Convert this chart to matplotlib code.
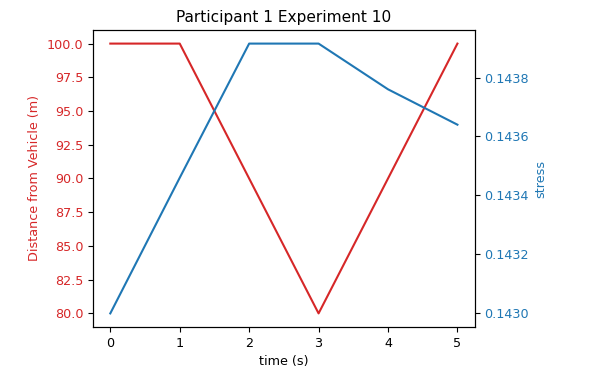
import matplotlib.pyplot as plt

time = [0, 1, 2, 3, 4, 5]
distance = [100, 100, 90, 80, 90, 100]
stress = [0.14300, 0.14346, 0.143915, 0.143915, 0.14376, 0.14364]

plt.rcParams['font.size'] = 9.2

fig = plt.figure(figsize=(5.92, 3.81), dpi=100)
ax1 = fig.add_axes([0.157, 0.142, 0.645, 0.779])

color = 'tab:red'
ax1.set_xlabel('time (s)')
ax1.set_ylabel('Distance from Vehicle (m)', color=color)
ax1.plot(time, distance, color=color)
ax1.tick_params(axis='y', labelcolor=color)

ax2 = ax1.twinx()
color = 'tab:blue'
ax2.set_ylabel('stress', color=color)
ax2.plot(time, stress, color=color)
ax2.tick_params(axis='y', labelcolor=color)

ax1.set_title('Participant 1 Experiment 10')
fig.savefig('out.png')
